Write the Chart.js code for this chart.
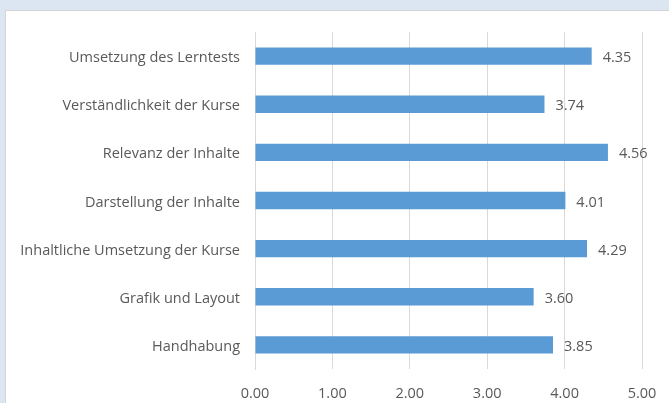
<!DOCTYPE html>
<html>
<head>
<meta charset="utf-8">
<script src="https://cdn.jsdelivr.net/npm/chart.js@4.4.1/dist/chart.umd.min.js"></script>
<style>
  html, body { margin:0; padding:0; }
  body { width:669px; height:403px; background:#dce6f2; position:relative; overflow:hidden; }
  #panel { position:absolute; left:5px; top:10px; width:700px; height:420px; background:#fff; border-left:1px solid #d4d4d4; border-top:1px solid #d4d4d4; }
  #wrap { position:absolute; left:0; top:0; width:669px; height:403px; }
</style>
</head>
<body>
<div id="panel"></div>
<div id="wrap"><canvas id="c" width="669" height="403"></canvas></div>
<script>
const categories = [
  'Umsetzung des Lerntests',
  'Verständlichkeit der Kurse',
  'Relevanz der Inhalte',
  'Darstellung der Inhalte',
  'Inhaltliche Umsetzung der Kurse',
  'Grafik und Layout',
  'Handhabung'
];
const values = [4.35, 3.74, 4.56, 4.01, 4.29, 3.60, 3.85];
const tickValues = [0, 1, 2, 3, 4, 5];

const FONT = '"Open Sans", sans-serif';
const FSIZE = 14.5;
const TXT = '#595959';

// Werte rechts neben die Balken schreiben
const valueLabels = {
  id: 'valueLabels',
  afterDatasetsDraw(chart){
    const ctx = chart.ctx;
    const meta = chart.getDatasetMeta(0);
    ctx.save();
    ctx.font = FSIZE + 'px ' + FONT;
    ctx.fillStyle = TXT;
    ctx.textAlign = 'left';
    ctx.textBaseline = 'middle';
    meta.data.forEach((bar, i) => {
      ctx.fillText(values[i].toFixed(2), bar.x + 11, bar.y + 2);
    });
    ctx.restore();
  }
};

new Chart(document.getElementById('c'), {
  type: 'bar',
  data: {
    labels: categories,
    datasets: [{ data: values, backgroundColor: '#5b9bd5', barPercentage: 0.36, categoryPercentage: 1 }]
  },
  options: {
    indexAxis: 'y',
    responsive: false,
    animation: false,
    layout: { padding: { left: 0, right: 27, top: 32, bottom: 0 } },
    plugins: { legend: { display: false }, tooltip: { enabled: false } },
    scales: {
      x: {
        min: 0, max: 5,
        afterBuildTicks: s => { s.ticks = tickValues.map(v => ({ value: v })); },
        afterFit: s => { s.height = 34; s.paddingLeft = 0; s.paddingRight = 0; },
        grid: { color: '#d9d9d9', lineWidth: 1, drawTicks: false },
        border: { display: false },
        ticks: { color: TXT, font: { family: FONT, size: FSIZE }, padding: 16, callback: v => v.toFixed(2) }
      },
      y: {
        afterFit: s => { s.width = 255; },
        grid: { display: false, drawTicks: false },
        border: { display: true, color: '#d9d9d9' },
        ticks: { color: TXT, font: { family: FONT, size: FSIZE }, padding: 15, labelOffset: 2 }
      }
    }
  },
  plugins: [valueLabels]
});
</script>
</body>
</html>
